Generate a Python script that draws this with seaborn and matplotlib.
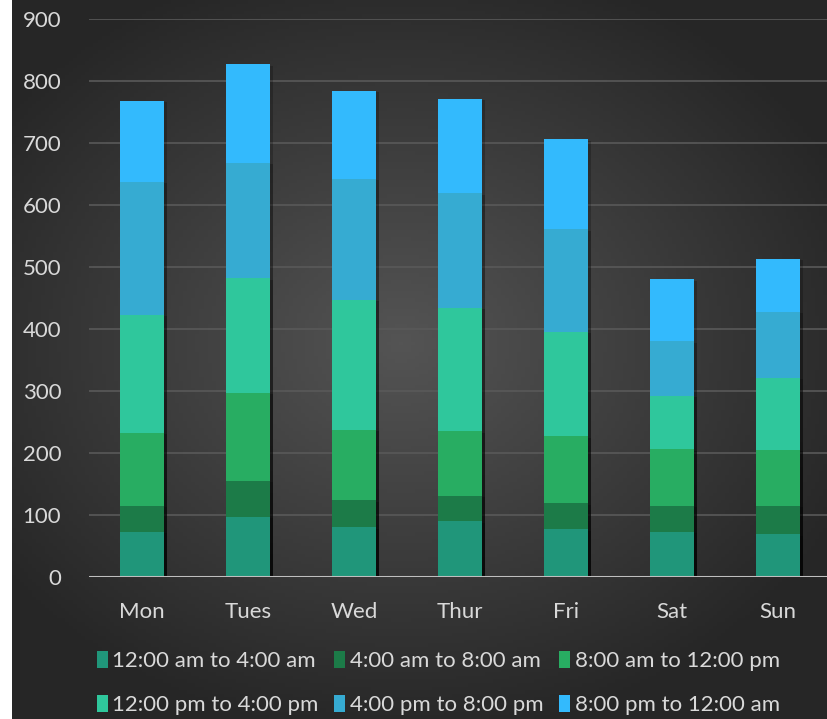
"""Stacked bars by weekday and time of day, dark Excel-like style."""

import numpy as np
import pandas as pd
import seaborn as sns
from matplotlib import pyplot as plt
from matplotlib import patheffects as pe

days = ['Mon', 'Tues', 'Wed', 'Thur', 'Fri', 'Sat', 'Sun']
slots = ['12:00 am to 4:00 am', '4:00 am to 8:00 am', '8:00 am to 12:00 pm',
         '12:00 pm to 4:00 pm', '4:00 pm to 8:00 pm', '8:00 pm to 12:00 am']

s_0_4 = [73, 97, 80, 90, 77, 73, 69]
s_4_8 = [42, 58, 44, 41, 42, 42, 46]
s_8_12 = [118, 142, 113, 104, 108, 91, 90]
s_12_16 = [190, 185, 210, 199, 168, 86, 116]
s_16_20 = [214, 186, 195, 185, 166, 88, 107]
s_20_24 = [131, 159, 142, 152, 145, 100, 85]

colors = ['#20967A', '#1C7B48', '#28AD62', '#2FC79C', '#36ABD2', '#33BAFD']
text_col = '#D9D9D9'

sns.set_theme(style='dark')
plt.rcParams['font.family'] = ['Lato', 'DejaVu Sans']

df = pd.DataFrame({'day': days})
series = [s_0_4, s_4_8, s_8_12, s_12_16, s_16_20, s_20_24]
for name, vals in zip(slots, series):
    df[name] = vals
cum = df[slots].cumsum(axis=1)
cum.insert(0, 'day', days)

fig = plt.figure(figsize=(8.27, 7.19), dpi=100)
fig.patch.set_facecolor('white')

# radial gradient background (dark panel, white strip on the left)
x0 = 12 / 827
bg = fig.add_axes([x0, 0, 1 - x0, 1])
yy, xx = np.mgrid[0:200, 0:200]
r = np.sqrt(((xx - 95) / 120.0) ** 2 + ((yy - 95) / 110.0) ** 2)
r = np.clip(r, 0, 1)
shade = 0.33 - 0.18 * r
bg.imshow(np.dstack([shade, shade, shade]), aspect='auto', extent=(0, 1, 0, 1))
bg.set_axis_off()

ax = fig.add_axes([89 / 827, 142 / 719, 742 / 827, 558 / 719])
ax.set_facecolor('none')

for name, c in reversed(list(zip(slots, colors))):
    sns.barplot(data=cum, x='day', y=name, color=c, width=0.415, ax=ax,
                saturation=1, label=name, zorder=3)
if ax.get_legend() is not None:
    ax.get_legend().remove()
for p in ax.patches:
    p.set_path_effects([pe.SimplePatchShadow(offset=(2, -1), shadow_rgbFace='black', alpha=0.22),
                        pe.Normal()])
    p.set_edgecolor('none')

ax.set_ylim(0, 900)
ax.set_xlim(-0.5, 6.5)
ax.set_yticks(range(0, 901, 100))
ax.grid(axis='y', color='#595959', linewidth=1.2, zorder=0)
ax.grid(axis='x', visible=False)
ax.axhline(0, color='#BFBFBF', linewidth=2.2, zorder=4)
for s in ax.spines.values():
    s.set_visible(False)
ax.tick_params(axis='y', length=0, pad=20, labelsize=16, labelcolor=text_col)
ax.tick_params(axis='x', length=0, pad=18, labelsize=16, labelcolor=text_col)
ax.set_xlabel('')
ax.set_ylabel('')

h, l = ax.get_legend_handles_labels()
lookup = dict(zip(l, h))
leg_order = [slots[0], slots[3], slots[1], slots[4], slots[2], slots[5]]
leg = fig.legend([lookup[s] for s in leg_order], leg_order, ncol=3,
                 loc='lower center', bbox_to_anchor=(0.53, -0.022), frameon=False,
                 fontsize=16, labelcolor=text_col, handlelength=0.5, handleheight=0.8,
                 handletextpad=0.2, columnspacing=0.7, labelspacing=1.05)
for p in leg.get_patches():
    p.set_path_effects([])

fig.savefig('out.png', dpi=100, facecolor=fig.get_facecolor())
